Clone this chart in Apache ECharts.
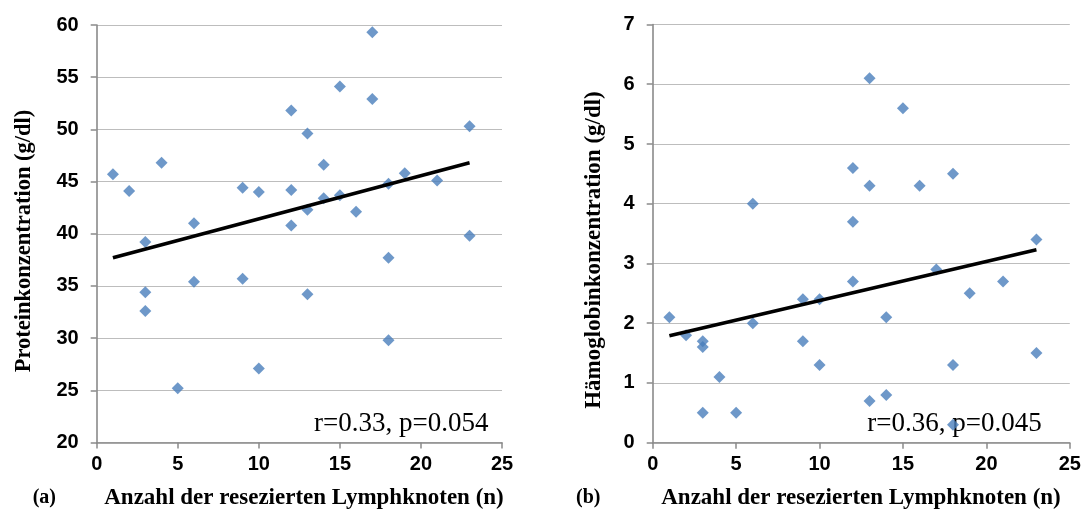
<!DOCTYPE html>
<html>
<head>
<meta charset="utf-8">
<script src="https://cdn.jsdelivr.net/npm/echarts@6/dist/echarts.min.js"></script>
<style>html,body{margin:0;padding:0;background:#fff;}#c{width:1084px;height:509px;}</style>
</head>
<body>
<div id="c"></div>
<script>
// Panel (a): protein concentration vs. resected lymph nodes
const leftX = [1,2,3,3,3,4,5,6,6,9,9,10,10,12,12,12,13,13,13,14,14,15,15,16,17,17,18,18,18,19,21,23,23];
const leftY = [45.7,44.1,39.2,34.4,32.6,46.8,25.2,41.0,35.4,44.4,35.7,44.0,27.1,51.8,44.2,40.8,49.6,42.3,34.2,46.6,43.4,54.1,43.7,42.1,59.3,52.9,44.8,37.7,29.8,45.8,45.1,50.3,39.8];
const leftTrendX = [1,23];
const leftTrendY = [37.7,46.8];
// Panel (b): haemoglobin concentration vs. resected lymph nodes
const rightX = [1,2,3,3,3,4,5,6,6,9,9,10,10,12,12,12,13,13,13,14,14,15,16,17,18,18,18,19,21,23,23];
const rightY = [2.1,1.8,1.7,1.6,0.5,1.1,0.5,4.0,2.0,2.4,1.7,2.4,1.3,4.6,3.7,2.7,6.1,4.3,0.7,2.1,0.8,5.6,4.3,2.9,4.5,1.3,0.3,2.5,2.7,3.4,1.5];
const rightTrendX = [1,23];
const rightTrendY = [1.79,3.23];
// Axis settings
const xTicks = {min:0, max:25, interval:5};
const leftYTicks = {min:20, max:60, interval:5};
const rightYTicks = {min:0, max:7, interval:1};
const texts = {
  xTitle: 'Anzahl der resezierten Lymphknoten (n)',
  leftYTitle: 'Proteinkonzentration (g/dl)',
  rightYTitle: 'Hämoglobinkonzentration (g/dl)',
  leftStat: 'r=0.33, p=0.054',
  rightStat: 'r=0.36, p=0.045',
  leftTag: '(a)',
  rightTag: '(b)'
};

const pairs = (xs, ys) => xs.map((x, i) => [x, ys[i]]);
const AXIS = '#8a8a8a', GRID = '#bdbdbd', BLUE = '#4A7EBB';
const tickFont = {color:'#000', fontFamily:'Liberation Sans', fontWeight:'bold', fontSize:20};

function xAxis(gi){
  return {type:'value', gridIndex:gi, min:xTicks.min, max:xTicks.max, interval:xTicks.interval,
    axisLine:{show:true, onZero:false, lineStyle:{color:AXIS, width:1.6}},
    axisTick:{show:true, length:6, lineStyle:{color:AXIS, width:1.5}},
    axisLabel:Object.assign({margin:12}, tickFont),
    splitLine:{show:false}};
}
function yAxis(gi, t){
  return {type:'value', gridIndex:gi, min:t.min, max:t.max, interval:t.interval,
    axisLine:{show:true, onZero:false, lineStyle:{color:AXIS, width:1.6}},
    axisTick:{show:true, length:6, lineStyle:{color:AXIS, width:1.5}},
    axisLabel:Object.assign({margin:18}, tickFont),
    splitLine:{show:true, lineStyle:{color:GRID, width:1.2}}};
}
const option = {
  animation:false,
  grid:[
    {left:96.7, right:582, top:25, bottom:66.5},
    {left:652.7, right:14.2, top:24.5, bottom:66.3}
  ],
  xAxis:[xAxis(0), xAxis(1)],
  yAxis:[yAxis(0, leftYTicks), yAxis(1, rightYTicks)],
  series:[
    {type:'scatter', xAxisIndex:0, yAxisIndex:0, symbol:'diamond', symbolSize:12,
     itemStyle:{color:BLUE}, data:pairs(leftX, leftY), z:3},
    {type:'line', xAxisIndex:0, yAxisIndex:0, symbol:'none', lineStyle:{color:'#000', width:3.5},
     data:pairs(leftTrendX, leftTrendY), z:4},
    {type:'scatter', xAxisIndex:1, yAxisIndex:1, symbol:'diamond', symbolSize:12,
     itemStyle:{color:BLUE}, data:pairs(rightX, rightY), z:3},
    {type:'line', xAxisIndex:1, yAxisIndex:1, symbol:'none', lineStyle:{color:'#000', width:3.5},
     data:pairs(rightTrendX, rightTrendY), z:4}
  ],
  graphic:[
    {type:'text', x:24, y:241, rotation:Math.PI/2, z:0,
     style:{text:texts.leftYTitle, font:'bold 22.5px "Liberation Serif"', fill:'#000', textAlign:'center', textVerticalAlign:'middle'}},
    {type:'text', x:594, y:250, rotation:Math.PI/2, z:0,
     style:{text:texts.rightYTitle, font:'bold 23px "Liberation Serif"', fill:'#000', textAlign:'center', textVerticalAlign:'middle'}},
    {type:'text', x:304, y:498, z:0,
     style:{text:texts.xTitle, font:'bold 23px "Liberation Serif"', fill:'#000', textAlign:'center', textVerticalAlign:'middle'}},
    {type:'text', x:861, y:498, z:0,
     style:{text:texts.xTitle, font:'bold 23px "Liberation Serif"', fill:'#000', textAlign:'center', textVerticalAlign:'middle'}},
    {type:'text', x:32.7, y:498, z:0,
     style:{text:texts.leftTag, font:'bold 20px "Liberation Serif"', fill:'#000', textAlign:'left', textVerticalAlign:'middle'}},
    {type:'text', x:576, y:498, z:0,
     style:{text:texts.rightTag, font:'bold 20px "Liberation Serif"', fill:'#000', textAlign:'left', textVerticalAlign:'middle'}},
    {type:'text', x:314, y:424, z:0,
     style:{text:texts.leftStat, font:'27px "Liberation Serif"', fill:'#000', textAlign:'left', textVerticalAlign:'middle'}},
    {type:'text', x:867.3, y:424, z:0,
     style:{text:texts.rightStat, font:'27px "Liberation Serif"', fill:'#000', textAlign:'left', textVerticalAlign:'middle'}}
  ]
};
const chart = echarts.init(document.getElementById('c'), null, {renderer:'canvas'});
chart.setOption(option);
</script>
</body>
</html>
